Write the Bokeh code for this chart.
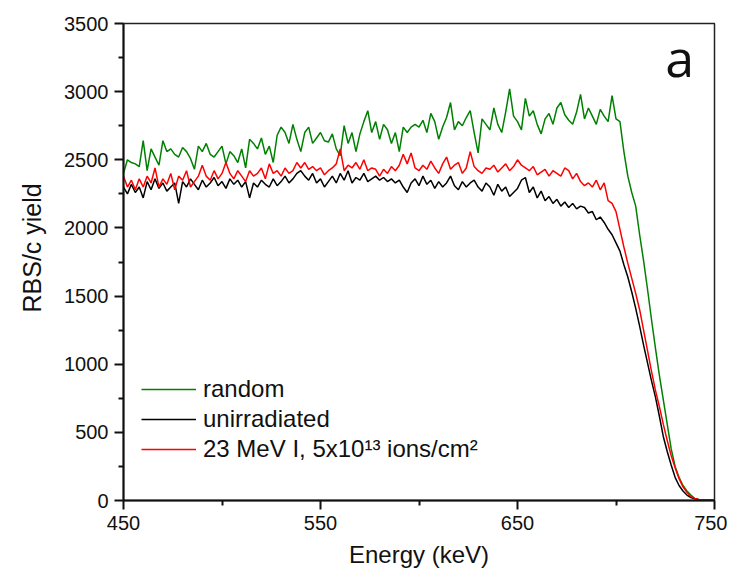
import numpy as np
from bokeh.plotting import figure
from bokeh.models import Range1d, FixedTicker, Legend, LegendItem, Label, Title
from bokeh.embed import file_html
from bokeh.resources import INLINE

energy = list(range(450, 751, 2))

random_yield = [
    2400, 2500, 2480, 2470, 2450, 2640, 2420, 2580, 2520, 2460,
    2640, 2560, 2580, 2540, 2520, 2590, 2560, 2510, 2430, 2600,
    2560, 2620, 2540, 2520, 2560, 2600, 2470, 2560, 2530, 2480,
    2580, 2440, 2650, 2620, 2580, 2660, 2540, 2600, 2480, 2680,
    2740, 2700, 2620, 2760, 2650, 2560, 2700, 2740, 2620, 2660,
    2700, 2640, 2630, 2690, 2580, 2530, 2750, 2620, 2700, 2560,
    2690, 2780, 2860, 2700, 2780, 2650, 2760, 2720, 2620, 2700,
    2560, 2740, 2700, 2740, 2760, 2740, 2790, 2700, 2840, 2780,
    2650, 2740, 2810, 2920, 2720, 2780, 2750, 2810, 2860, 2700,
    2550, 2800, 2760, 2720, 2880, 2760, 2700, 2850, 3020, 2820,
    2780, 2720, 2950, 2820, 2860, 2760, 2690, 2800, 2840, 2760,
    2880, 2920, 2830, 2790, 2760, 2850, 2980, 2800, 2880, 2820,
    2760, 2870, 2820, 2780, 2970, 2800, 2780, 2560, 2380, 2260,
    2160, 1950, 1760, 1550, 1330, 1120, 920, 740, 560, 380,
    250, 170, 110, 70, 40, 15, 8, 5, 3, 2,
    0,
]

unirradiated_yield = [
    2300, 2250, 2320, 2260, 2300, 2220, 2340, 2280, 2360, 2290,
    2330, 2270, 2300, 2330, 2180, 2340, 2300, 2360, 2320, 2280,
    2350, 2300, 2330, 2370, 2310, 2340, 2290, 2360, 2320, 2350,
    2300, 2340, 2220, 2330, 2300, 2350, 2320, 2300, 2360, 2310,
    2340, 2380, 2330, 2360, 2400, 2420, 2380, 2350, 2400, 2330,
    2360, 2300, 2340, 2380, 2330, 2400, 2350, 2420, 2330, 2370,
    2350, 2400, 2340, 2360, 2380, 2350, 2370, 2340, 2360, 2330,
    2350, 2300, 2260, 2330, 2360, 2310, 2380, 2320, 2350, 2290,
    2340, 2300, 2330, 2380, 2310, 2280, 2340, 2300, 2330, 2350,
    2300, 2270, 2330, 2300, 2240, 2320, 2270, 2300, 2230, 2260,
    2290, 2350, 2370, 2260, 2300, 2220, 2270, 2200, 2230, 2180,
    2210, 2160, 2190, 2150, 2180, 2140, 2160, 2150, 2110, 2120,
    2060, 2080, 2040, 1990, 1950, 1890, 1830, 1730, 1640, 1530,
    1410, 1280, 1140, 1010, 880, 760, 620, 470, 360, 260,
    170, 110, 70, 40, 22, 12, 6, 4, 2, 1,
    0,
]

irradiated_yield = [
    2380, 2300, 2350, 2280, 2360, 2300, 2380, 2330, 2440, 2300,
    2360, 2320, 2400, 2280, 2380, 2350, 2420, 2300, 2340, 2380,
    2460, 2380, 2350, 2420, 2360, 2400, 2480, 2400, 2360, 2420,
    2380, 2340, 2420, 2380, 2400, 2440, 2360, 2470, 2400, 2420,
    2380, 2440, 2400, 2420, 2480, 2440, 2480, 2430, 2450, 2420,
    2440, 2390, 2420, 2440, 2470, 2580, 2420, 2460, 2440, 2480,
    2430, 2500, 2420, 2440, 2430, 2380, 2430, 2400, 2450, 2420,
    2460, 2540, 2470, 2550, 2440, 2420, 2460, 2430, 2490, 2440,
    2400, 2470, 2520, 2430, 2460, 2480, 2400, 2440, 2560, 2450,
    2420, 2400, 2440, 2430, 2460, 2410, 2440, 2470, 2420, 2450,
    2500, 2460, 2440, 2420, 2450, 2390, 2410, 2430, 2380, 2420,
    2400, 2380, 2440, 2420, 2360, 2400, 2340, 2310, 2330, 2300,
    2350, 2280, 2330, 2200, 2180, 2120, 1990, 1860, 1740, 1630,
    1520, 1400, 1250, 1100, 950, 810, 690, 560, 440, 330,
    240, 160, 100, 60, 30, 15, 8, 5, 3, 2,
    0,
]

series_labels = ["random", "unirradiated", "23 MeV I, 5x10\u00b9\u00b3 ions/cm\u00b2"]
series_colors = ["#008000", "#000000", "#ff0000"]
x_major = [450, 550, 650, 750]
x_minor = [500, 600, 700]
y_major = [0, 500, 1000, 1500, 2000, 2500, 3000, 3500]
y_minor = [250, 750, 1250, 1750, 2250, 2750, 3250]

p = figure(width=727, height=571, output_backend="svg", toolbar_location=None,
           x_range=Range1d(450, 750), y_range=Range1d(0, 3500),
           min_border_left=123, min_border_right=13, min_border_top=23, min_border_bottom=71)
p.grid.visible = False
p.outline_line_color = "#222222"
p.outline_line_width = 1.5
p.background_fill_color = "white"
p.border_fill_color = "white"

renderers = []
for ys, col in zip([random_yield, unirradiated_yield, irradiated_yield], series_colors):
    r = p.line(energy, ys, line_color=col, line_width=1.5)
    renderers.append(r)

for ax in (p.xaxis[0], p.yaxis[0]):
    ax.axis_line_width = 2
    ax.axis_line_color = "#111111"
    ax.major_tick_line_width = 2
    ax.minor_tick_line_width = 2
    ax.major_tick_line_color = "#111111"
    ax.minor_tick_line_color = "#111111"
    ax.major_tick_in = 0
    ax.minor_tick_in = 0
    ax.major_tick_out = 9
    ax.minor_tick_out = 5
    ax.major_label_text_font = "Liberation Sans"
    ax.major_label_text_font_size = "20px"
    ax.major_label_text_color = "#111111"
    ax.axis_label_text_font = "Liberation Sans"
    ax.axis_label_text_font_size = "24px"
    ax.axis_label_text_font_style = "normal"
    ax.axis_label_text_color = "#111111"

p.xaxis[0].ticker = FixedTicker(ticks=x_major, minor_ticks=x_minor)
p.yaxis[0].ticker = FixedTicker(ticks=y_major, minor_ticks=y_minor)
p.xaxis[0].axis_label = "Energy (keV)"
p.xaxis[0].major_label_standoff = 6
p.yaxis[0].major_label_standoff = 6
p.xaxis[0].axis_label_standoff = 8

# y-axis title, set above the frame centre as in the original
ytitle = Title(text="RBS/c yield", align="left", offset=188, standoff=31,
               text_font="Liberation Sans", text_font_size="25px",
               text_font_style="normal", text_color="#111111")
p.add_layout(ytitle, "left")

legend = Legend(items=[LegendItem(label=lab, renderers=[r]) for lab, r in zip(series_labels, renderers)],
                location=(18, 36))
legend.border_line_color = None
legend.background_fill_alpha = 0
legend.glyph_width = 55
legend.glyph_height = 30
legend.label_height = 30
legend.label_standoff = 7
legend.spacing = 0
legend.padding = 5
legend.margin = 0
legend.label_text_font = "Liberation Sans"
legend.label_text_font_size = "24px"
legend.label_text_color = "#111111"
p.add_layout(legend)

p.add_layout(Label(x=725, y=3260, text="a", text_font="Open Sans", text_font_size="52px",
                   text_color="#111111", text_baseline="alphabetic"))

open("out.html", "w").write(file_html(p, INLINE))
